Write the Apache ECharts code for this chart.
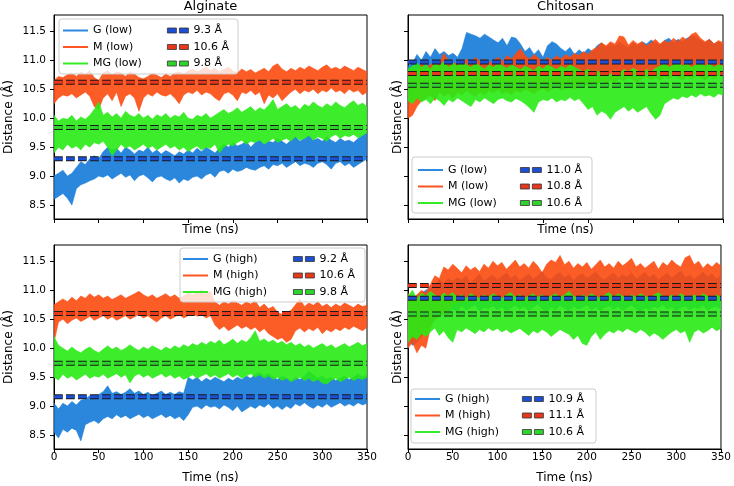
<!DOCTYPE html>
<html><head><meta charset="utf-8">
<script src="https://cdn.jsdelivr.net/npm/echarts@6/dist/echarts.min.js"></script>
<style>html,body{margin:0;padding:0;background:#fff}#c{width:734px;height:486px}</style>
</head><body><div id="c"></div><script>
// ---------- data ----------
const time = [0,5,10,15,20,25,30,35,40,45,50,55,60,65,70,75,80,85,90,95,100,105,110,115,120,125,130,135,140,145,150,155,160,165,170,175,180,185,190,195,200,205,210,215,220,225,230,235,240,245,250,255,260,265,270,275,280,285,290,295,300,305,310,315,320,325,330,335,340,345,350];
const yTicks = [8.5,9.0,9.5,10.0,10.5,11.0,11.5];
const panelTitles = ['Alginate','Chitosan'];
const namesLow = ['G (low)','M (low)','MG (low)'];
const namesHigh = ['G (high)','M (high)','MG (high)'];

// Alginate, low (envelope of each trace: lower / upper edge, every 5 ns)
const algLowG_lo = [8.60,8.65,8.70,8.62,8.50,8.78,8.85,8.88,8.92,8.95,
 9.00,8.98,9.02,8.95,9.00,9.05,8.98,9.02,8.92,9.00,
 9.03,8.97,8.90,8.98,9.00,8.95,8.92,8.97,8.88,8.95,
 8.92,8.98,9.00,8.95,9.02,9.05,8.98,9.08,9.10,9.05,
 9.12,9.08,9.10,9.15,9.12,9.10,9.15,9.18,9.12,9.20,
 9.18,9.22,9.15,9.20,9.25,9.18,9.22,9.20,9.15,9.22,
 9.25,9.20,9.12,9.22,9.25,9.18,9.22,9.15,9.20,9.25,
 9.30];
const algLowG_hi = [9.00,9.05,9.10,9.00,9.05,9.15,9.25,9.20,9.30,9.35,
 9.30,9.42,9.50,9.45,9.48,9.40,9.50,9.45,9.38,9.45,
 9.42,9.50,9.40,9.45,9.38,9.44,9.40,9.35,9.42,9.38,
 9.45,9.40,9.48,9.42,9.50,9.45,9.40,9.48,9.55,9.50,
 9.58,9.52,9.55,9.60,9.50,9.58,9.62,9.55,9.60,9.58,
 9.65,9.60,9.55,9.62,9.68,9.60,9.65,9.70,9.62,9.65,
 9.60,9.68,9.62,9.58,9.65,9.60,9.62,9.58,9.65,9.70,
 9.75];
const algLowM_lo = [10.25,10.35,10.40,10.38,10.42,10.35,10.40,10.45,10.38,10.20,
 10.15,10.35,10.42,10.30,10.45,10.20,10.38,10.42,10.35,10.12,
 10.35,10.42,10.38,10.45,10.40,10.38,10.42,10.35,10.25,10.40,
 10.45,10.42,10.48,10.40,10.45,10.42,10.35,10.30,10.42,10.45,
 10.40,10.30,10.45,10.42,10.48,10.40,10.45,10.25,10.40,10.35,
 10.42,10.30,10.38,10.45,10.50,10.42,10.48,10.45,10.50,10.42,
 10.48,10.45,10.52,10.45,10.48,10.42,10.50,10.45,10.48,10.40,
 10.45];
const algLowM_hi = [10.65,10.72,10.70,10.75,10.78,10.72,10.80,10.75,10.82,10.70,
 10.65,10.78,10.82,10.75,10.80,10.78,10.72,10.80,10.76,10.70,
 10.68,10.72,10.78,10.74,10.70,10.76,10.72,10.78,10.80,10.76,
 10.82,10.85,10.80,10.84,10.88,10.82,10.86,10.80,10.84,10.88,
 10.82,10.78,10.85,10.80,10.84,10.78,10.82,10.86,10.80,10.90,
 10.94,10.85,10.80,10.86,10.82,10.88,10.84,10.90,10.86,10.82,
 10.88,10.92,10.85,10.88,10.84,10.90,10.86,10.82,10.88,10.84,
 10.80];
const algLowMG_lo = [9.40,9.50,9.45,9.55,9.48,9.52,9.45,9.55,9.50,9.58,
 9.55,9.60,9.50,9.35,9.45,9.55,9.48,9.52,9.45,9.50,
 9.55,9.48,9.52,9.45,9.50,9.55,9.48,9.52,9.45,9.50,
 9.42,9.48,9.52,9.45,9.50,9.48,9.55,9.40,9.50,9.55,
 9.52,9.58,9.62,9.55,9.60,9.58,9.62,9.55,9.60,9.65,
 9.58,9.62,9.65,9.60,9.68,9.62,9.65,9.70,9.62,9.68,
 9.65,9.60,9.68,9.72,9.65,9.70,9.68,9.72,9.66,9.70,
 9.75];
const algLowMG_hi = [10.05,9.95,10.00,9.98,10.05,9.95,10.02,9.98,10.05,10.15,
 10.28,10.05,10.10,10.02,10.08,10.00,10.12,10.05,10.02,10.08,
 10.00,10.05,9.98,10.06,10.02,10.08,10.00,10.05,10.02,10.10,
 10.00,9.98,10.05,10.02,10.08,10.00,10.05,10.10,10.15,10.08,
 10.12,10.18,10.10,10.15,10.20,10.12,10.18,10.14,10.22,10.32,
 10.15,10.20,10.25,10.18,10.22,10.15,10.24,10.20,10.28,10.22,
 10.18,10.25,10.20,10.28,10.22,10.18,10.25,10.30,10.22,10.26,
 10.20];

// Chitosan, low
const chiLowG_lo = [10.40,10.45,10.50,10.55,10.60,10.62,10.70,10.65,10.72,10.68,
 10.75,10.80,10.85,10.90,10.88,10.85,10.90,10.82,10.88,10.85,
 10.80,10.78,10.75,10.80,10.72,10.78,10.75,10.70,10.76,10.72,
 10.78,10.75,10.80,10.78,10.74,10.80,10.76,10.72,10.78,10.75,
 10.70,10.78,10.82,10.76,10.80,10.78,10.84,10.80,10.86,10.82,
 10.88,10.84,10.80,10.86,10.82,10.88,10.84,10.90,10.86,10.82,
 10.88,10.84,10.90,10.86,10.92,10.88,10.84,10.90,10.86,10.88,
 10.85];
const chiLowG_hi = [10.90,10.95,11.10,11.00,11.15,11.05,11.20,11.10,11.15,11.08,
 11.12,11.05,11.20,11.48,11.45,11.42,11.38,11.45,11.40,11.35,
 11.30,11.38,11.25,11.40,11.38,11.28,11.15,11.22,11.10,11.18,
 11.05,11.25,11.32,11.28,11.20,11.15,11.22,11.10,11.18,11.12,
 11.20,11.15,11.25,11.30,11.22,11.28,11.24,11.32,11.26,11.22,
 11.30,11.25,11.32,11.28,11.35,11.30,11.26,11.34,11.38,11.30,
 11.36,11.32,11.38,11.42,11.40,11.34,11.30,11.36,11.28,11.32,
 11.25];
const chiLowM_lo = [10.00,10.05,10.20,10.30,10.35,10.40,10.30,10.45,10.38,10.42,
 10.35,10.45,10.40,10.48,10.42,10.38,10.45,10.40,10.48,10.44,
 10.50,10.42,10.46,10.40,10.48,10.44,10.50,10.46,10.42,10.48,
 10.52,10.46,10.50,10.55,10.48,10.52,10.56,10.50,10.55,10.60,
 10.55,10.62,10.58,10.65,10.60,10.66,10.62,10.68,10.64,10.70,
 10.66,10.62,10.68,10.72,10.66,10.70,10.65,10.72,10.68,10.74,
 10.70,10.66,10.72,10.68,10.74,10.70,10.66,10.72,10.68,10.74,
 10.70];
const chiLowM_hi = [10.70,10.85,10.80,10.95,10.88,10.92,11.00,10.95,11.12,10.98,
 10.92,11.00,10.95,11.02,10.96,11.05,10.98,11.02,10.95,11.00,
 11.05,10.98,11.08,11.02,11.12,11.20,11.08,11.02,11.10,11.04,
 10.98,11.05,11.00,11.08,11.02,11.10,11.05,11.12,11.08,11.15,
 11.10,11.18,11.22,11.30,11.25,11.32,11.28,11.42,11.40,11.26,
 11.34,11.28,11.32,11.25,11.30,11.36,11.28,11.34,11.30,11.38,
 11.32,11.40,11.35,11.45,11.48,11.38,11.32,11.36,11.28,11.34,
 11.30];
const chiLowMG_lo = [10.30,10.25,10.35,10.28,10.32,10.25,10.35,10.30,10.22,10.32,
 10.28,10.35,10.30,10.25,10.20,10.32,10.28,10.35,10.30,10.25,
 10.32,10.35,10.30,10.28,10.34,10.30,10.25,10.18,10.10,10.28,
 10.32,10.30,10.35,10.28,10.32,10.30,10.36,10.30,10.34,10.25,
 10.15,10.20,10.05,10.12,10.08,9.98,10.10,10.15,10.20,10.12,
 10.18,10.10,10.15,10.20,10.08,9.98,10.05,10.25,10.30,10.35,
 10.32,10.38,10.35,10.40,10.36,10.42,10.38,10.40,10.36,10.42,
 10.40];
const chiLowMG_hi = [10.85,10.90,10.95,10.88,10.92,10.85,10.95,10.90,10.98,10.88,
 10.95,10.90,11.00,10.92,10.88,10.95,10.90,10.85,10.92,10.88,
 10.95,10.90,10.86,10.92,10.88,10.84,10.90,10.86,10.82,10.90,
 10.85,10.92,10.88,10.84,10.90,10.86,10.92,10.88,10.84,10.80,
 10.85,10.78,10.82,10.76,10.80,10.75,10.82,10.78,10.84,10.80,
 10.86,10.82,10.78,10.84,10.80,10.86,10.90,10.95,10.88,10.92,
 10.98,10.90,10.94,10.88,10.92,10.96,10.90,10.94,10.88,10.92,
 10.90];

// Alginate, high
const algHighG_lo = [8.55,8.45,8.60,8.55,8.62,8.58,8.40,8.68,8.72,8.75,
 8.70,8.78,8.82,8.78,8.85,8.80,8.84,8.78,8.82,8.86,
 8.80,8.84,8.78,8.82,8.86,8.80,8.84,8.78,8.82,8.75,
 8.85,8.98,9.00,8.95,9.02,8.98,9.00,8.95,9.02,8.98,
 8.92,9.00,8.90,8.95,9.00,8.96,9.02,8.98,9.04,8.96,
 9.00,8.94,9.00,8.96,9.04,9.00,9.06,9.00,8.96,9.02,
 8.98,9.04,8.98,9.02,9.06,9.00,9.04,9.00,9.06,9.02,
 9.05];
const algHighG_hi = [9.05,8.95,9.05,9.00,9.08,9.02,9.10,9.12,9.18,9.15,
 9.20,9.25,9.35,9.22,9.25,9.20,9.24,9.30,9.22,9.26,
 9.20,9.24,9.18,9.22,9.26,9.20,9.24,9.20,9.25,9.22,
 9.50,9.45,9.50,9.42,9.48,9.44,9.50,9.46,9.42,9.48,
 9.44,9.50,9.46,9.52,9.48,9.55,9.58,9.52,9.56,9.50,
 9.46,9.52,9.48,9.44,9.50,9.46,9.52,9.60,9.54,9.48,
 9.52,9.46,9.50,9.44,9.48,9.52,9.46,9.50,9.56,9.50,
 9.55];
const algHighM_lo = [10.10,10.45,10.50,10.42,10.48,10.52,10.46,10.50,10.55,10.48,
 10.52,10.56,10.50,10.54,10.48,10.52,10.56,10.50,10.54,10.58,
 10.52,10.56,10.50,10.45,10.52,10.56,10.50,10.54,10.58,10.52,
 10.56,10.60,10.55,10.58,10.52,10.56,10.40,10.32,10.38,10.30,
 10.35,10.40,10.34,10.38,10.32,10.36,10.28,10.34,10.25,10.20,
 10.15,10.18,10.10,10.15,10.30,10.35,10.28,10.34,10.30,10.36,
 10.25,10.32,10.28,10.34,10.30,10.36,10.32,10.38,10.34,10.30,
 10.36];
const algHighM_hi = [10.75,10.80,10.85,10.80,10.88,10.82,10.90,10.86,10.94,10.88,
 10.92,10.86,10.90,10.84,10.88,10.92,10.86,10.90,10.94,10.98,
 10.92,10.88,10.92,10.86,10.90,10.94,10.88,10.92,10.86,10.90,
 10.95,10.92,10.96,11.00,10.94,10.98,10.80,10.74,10.80,10.76,
 10.82,10.78,10.74,10.80,10.76,10.82,10.70,10.76,10.68,10.72,
 10.62,10.58,10.62,10.65,10.75,10.85,10.72,10.78,10.74,10.80,
 10.72,10.76,10.70,10.76,10.72,10.78,10.74,10.70,10.76,10.72,
 10.74];
const algHighMG_lo = [9.50,9.45,9.55,9.48,9.52,9.45,9.50,9.55,9.48,9.52,
 9.50,9.55,9.48,9.52,9.56,9.50,9.54,9.40,9.52,9.56,
 9.50,9.54,9.48,9.52,9.56,9.50,9.54,9.48,9.52,9.46,
 9.50,9.54,9.48,9.52,9.56,9.50,9.54,9.48,9.52,9.56,
 9.50,9.54,9.48,9.52,9.56,9.50,9.54,9.48,9.52,9.46,
 9.50,9.44,9.48,9.42,9.46,9.50,9.44,9.48,9.42,9.46,
 9.40,9.38,9.44,9.48,9.42,9.46,9.50,9.44,9.48,9.46,
 9.50];
const algHighMG_hi = [10.20,10.05,10.00,9.95,10.02,9.96,9.92,9.98,10.02,9.96,
 9.92,9.98,10.04,9.98,10.02,9.96,10.00,10.06,10.00,9.96,
 10.02,9.98,10.04,10.00,9.96,10.02,9.98,10.04,10.00,10.06,
 10.02,10.08,10.04,10.10,10.06,10.12,10.08,10.14,10.06,10.10,
 10.16,10.08,10.14,10.10,10.18,10.30,10.12,10.16,10.10,10.14,
 10.08,10.12,10.06,10.10,10.04,10.08,10.02,10.06,10.00,10.04,
 10.08,10.02,10.06,10.00,10.04,10.08,10.02,10.06,10.10,10.04,
 10.08];

// Chitosan, high
const chiHighG_lo = [10.15,10.05,10.10,10.20,10.30,10.40,10.50,10.55,10.60,10.62,
 10.68,10.62,10.74,10.66,10.70,10.75,10.64,10.70,10.68,10.73,
 10.66,10.71,10.64,10.69,10.74,10.67,10.72,10.65,10.70,10.76,
 10.68,10.63,10.71,10.66,10.74,10.69,10.64,10.72,10.67,10.70,
 10.75,10.66,10.71,10.64,10.70,10.73,10.67,10.72,10.65,10.70,
 10.74,10.68,10.63,10.70,10.66,10.72,10.69,10.75,10.67,10.71,
 10.64,10.70,10.73,10.66,10.71,10.68,10.74,10.65,10.70,10.72,
 10.68];
const chiHighG_hi = [10.80,10.85,10.90,10.95,11.00,11.05,11.10,11.18,11.12,11.20,
 11.15,11.22,11.18,11.25,11.12,11.20,11.28,11.16,11.22,11.26,
 11.18,11.24,11.30,11.20,11.26,11.16,11.22,11.28,11.19,11.25,
 11.32,11.22,11.18,11.26,11.30,11.21,11.27,11.17,11.24,11.29,
 11.20,11.26,11.32,11.22,11.18,11.25,11.30,11.20,11.27,11.23,
 11.30,11.19,11.25,11.31,11.22,11.28,11.18,11.24,11.30,11.21,
 11.27,11.33,11.22,11.26,11.19,11.25,11.31,11.23,11.28,11.20,
 11.25];
const chiHighM_lo = [10.00,10.10,9.92,10.05,10.00,10.35,10.50,10.55,10.60,10.65,
 10.75,10.80,10.78,10.82,10.80,10.85,10.82,10.86,10.80,10.84,
 10.82,10.87,10.79,10.85,10.90,10.81,10.86,10.78,10.84,10.89,
 10.83,10.88,10.80,10.85,10.91,10.82,10.87,10.79,10.84,10.90,
 10.81,10.86,10.92,10.83,10.88,10.80,10.85,10.89,10.82,10.87,
 10.84,10.79,10.86,10.91,10.83,10.88,10.80,10.85,10.90,10.82,
 10.87,10.81,10.86,10.92,10.84,10.79,10.85,10.90,10.83,10.88,
 10.84];
const chiHighM_hi = [10.95,10.85,10.92,11.00,10.95,11.10,11.25,11.20,11.40,11.35,
 11.45,11.38,11.30,11.42,11.35,11.40,11.32,11.45,11.38,11.50,
 11.42,11.48,11.36,11.44,11.52,11.40,11.46,11.38,11.50,11.42,
 11.30,11.45,11.52,11.48,11.60,11.44,11.50,11.38,11.46,11.40,
 11.48,11.36,11.44,11.52,11.40,11.46,11.38,11.50,11.42,11.48,
 11.55,11.40,11.46,11.38,11.44,11.50,11.36,11.48,11.42,11.52,
 11.45,11.40,11.56,11.60,11.44,11.50,11.38,11.46,11.40,11.48,
 11.42];
const chiHighMG_lo = [10.10,10.20,10.15,10.25,10.20,10.28,10.35,10.22,10.30,10.18,
 10.10,10.32,10.28,10.35,10.30,10.25,10.32,10.28,10.35,10.30,
 10.34,10.28,10.32,10.26,10.30,10.34,10.28,10.22,10.30,10.26,
 10.32,10.28,10.20,10.26,10.32,10.28,10.24,10.15,10.22,10.08,
 10.05,10.20,10.28,10.15,10.24,10.30,10.26,10.32,10.28,10.34,
 10.30,10.26,10.32,10.28,10.20,10.26,10.22,10.15,10.22,10.28,
 10.32,10.26,10.30,10.10,10.28,10.32,10.26,10.30,10.36,10.30,
 10.34];
const chiHighMG_hi = [10.90,11.00,10.85,10.95,10.90,10.98,10.92,10.88,10.95,10.90,
 10.96,10.88,10.92,10.86,10.94,10.90,10.86,10.92,10.88,10.94,
 10.90,10.86,10.92,10.96,10.88,10.92,10.86,10.90,10.94,10.88,
 10.92,10.86,10.90,10.94,10.88,10.92,10.98,10.90,10.86,10.92,
 10.88,10.94,10.90,10.86,10.92,10.96,10.88,10.94,10.90,10.86,
 10.92,10.88,10.94,10.90,10.86,10.92,10.96,10.90,10.86,10.92,
 10.88,10.94,10.90,10.86,10.92,10.88,10.94,10.90,10.86,10.92,
 10.88];

// mean lines (position) and their legend labels
const algLowMeans = [9.30,10.62,9.84];   const algLowMeanLabels = ['9.3 Å','10.6 Å','9.8 Å'];
const chiLowMeans = [10.97,10.77,10.57]; const chiLowMeanLabels = ['11.0 Å','10.8 Å','10.6 Å'];
const algHighMeans = [9.16,10.60,9.74];  const algHighMeanLabels = ['9.2 Å','10.6 Å','9.8 Å'];
const chiHighMeans = [10.86,11.08,10.59];const chiHighMeanLabels = ['10.9 Å','11.1 Å','10.6 Å'];

// ---------- styling / layout ----------
const FONT = 'DejaVu Sans';
const fillColors = ['#137ad8','#fc4a0e','#28ea14'];
const legendLineColors = ['#2e8ae0','#fc5422','#36ea28'];
const meanColors = ['#1d4fd2','#e8381c','#2ed42c'];

const panels = [
  {grid:{left:54,top:15,width:313,height:204}, lo:[algLowG_lo,algLowM_lo,algLowMG_lo], hi:[algLowG_hi,algLowM_hi,algLowMG_hi],
   names:namesLow, means:algLowMeans, meanLabels:algLowMeanLabels, xLab:false, yLab:true,
   legTop:22.25, legLeft:[63,167], box:[59,19,179,55]},
  {grid:{left:408,top:15,width:315,height:204}, lo:[chiLowG_lo,chiLowM_lo,chiLowMG_lo], hi:[chiLowG_hi,chiLowM_hi,chiLowMG_hi],
   names:namesLow, means:chiLowMeans, meanLabels:chiLowMeanLabels, xLab:false, yLab:false,
   legTop:161.75, legLeft:[418,520], box:[412,157,180,56]},
  {grid:{left:54,top:245,width:313,height:204}, lo:[algHighG_lo,algHighM_lo,algHighMG_lo], hi:[algHighG_hi,algHighM_hi,algHighMG_hi],
   names:namesHigh, means:algHighMeans, meanLabels:algHighMeanLabels, xLab:true, yLab:true,
   legTop:250.75, legLeft:[183,293], box:[180,248,185,54]},
  {grid:{left:408,top:245,width:315,height:204}, lo:[chiHighG_lo,chiHighM_lo,chiHighMG_lo], hi:[chiHighG_hi,chiHighM_hi,chiHighMG_hi],
   names:namesHigh, means:chiHighMeans, meanLabels:chiHighMeanLabels, xLab:true, yLab:false,
   legTop:390.75, legLeft:[415,522], box:[411,389,185,54]}
];

// band renderer: one polygon through the upper edge and back along the lower edge
function bandRenderer(color){
  return function(params, api){
    if (params.dataIndexInside !== 0) return null;
    const n = params.dataInsideLength;
    const pts = [];
    for (let k=0;k<n;k++) pts.push(api.coord([api.value(0,k), api.value(2,k)]));
    for (let k=n-1;k>=0;k--) pts.push(api.coord([api.value(0,k), api.value(1,k)]));
    return {type:'polygon', shape:{points:pts},
      style:{fill:color, opacity:0.9, stroke:color, lineWidth:0.6}};
  };
}

const grid=[], xAxis=[], yAxis=[], series=[], legend=[], graphic=[];
const dash = [8.7,3.3];
panels.forEach((p,i)=>{
  grid.push(Object.assign({show:true, borderColor:'#000', borderWidth:1, backgroundColor:'transparent'}, p.grid));
  xAxis.push({type:'value', gridIndex:i, min:0, max:350, interval:50,
    axisLine:{show:true, onZero:false, lineStyle:{color:'#000', width:1}},
    axisTick:{show:true, length:4, lineStyle:{color:'#000'}},
    axisLabel:{show:p.xLab, margin:3, fontFamily:FONT, fontSize:10.5, color:'#000'},
    splitLine:{show:false},
    name:'Time (ns)', nameLocation:'middle', nameGap:p.xLab?23:5,
    nameTextStyle:{fontFamily:FONT, fontSize:12, color:'#000'}});
  yAxis.push({type:'value', gridIndex:i, min:8.26, max:11.78,
    axisLine:{show:true, onZero:false, lineStyle:{color:'#000', width:1}},
    axisTick:{show:true, length:4, customValues:yTicks, lineStyle:{color:'#000'}},
    axisLabel:{show:p.yLab, customValues:yTicks, margin:8, formatter:v=>Number(v).toFixed(1), fontFamily:FONT, fontSize:10.5, color:'#000'},
    splitLine:{show:false},
    name:'Distance (Å)', nameLocation:'middle', nameRotate:90, nameGap:p.yLab?39:4,
    nameTextStyle:{fontFamily:FONT, fontSize:12, color:'#000'}});
  // bands
  for (let j=0;j<3;j++){
    series.push({type:'custom', name:p.names[j], xAxisIndex:i, yAxisIndex:i, silent:true, clip:true, z:2,
      itemStyle:{color:fillColors[j]},
      encode:{x:0, y:[1,2]},
      renderItem: bandRenderer(fillColors[j]),
      data: time.map((t,k)=>[t, p.lo[j][k], p.hi[j][k]])});
  }
  // mean lines
  for (let j=0;j<3;j++){
    series.push({type:'line', name:'_outline'+i+j, xAxisIndex:i, yAxisIndex:i, symbol:'none', silent:true, z:3,
      lineStyle:{color:'#1a1a1a', width:5, type:dash}, data:[[0,p.means[j]],[350,p.means[j]]]});
    series.push({type:'line', name:p.meanLabels[j], xAxisIndex:i, yAxisIndex:i, symbol:'none', silent:true, z:4,
      itemStyle:{color:meanColors[j]},
      lineStyle:{color:meanColors[j], width:3, type:dash}, data:[[0,p.means[j]],[350,p.means[j]]]});
  }
  // legend box
  graphic.push({type:'rect', silent:true, z:10,
    shape:{x:p.box[0], y:p.box[1], width:p.box[2], height:p.box[3], r:3},
    style:{fill:'rgba(255,255,255,0.8)', stroke:'#cccccc', lineWidth:1}});
  const ts = {fontFamily:FONT, fontSize:11, color:'#000', lineHeight:16.5};
  legend.push({orient:'vertical', left:p.legLeft[0], top:p.legTop, padding:0, itemGap:0, itemWidth:25, itemHeight:2,
    selectedMode:false, z:20, textStyle:ts,
    data:p.names.map((n,j)=>({name:n, icon:'path://M0,0h25v2h-25z', itemStyle:{color:legendLineColors[j], borderWidth:0}}))});
  legend.push({orient:'vertical', left:p.legLeft[1], top:p.legTop, padding:0, itemGap:0, itemWidth:21, itemHeight:5,
    selectedMode:false, z:20, textStyle:ts,
    data:p.meanLabels.map((n,j)=>({name:n, icon:'path://M0,0h9v5h-9zM12,0h9v5h-9z', itemStyle:{color:meanColors[j], borderColor:'#333', borderWidth:0.8}}))});
});

const chart = echarts.init(document.getElementById('c'), null, {renderer:'canvas'});
chart.setOption({
  animation:false,
  backgroundColor:'#fff',
  textStyle:{fontFamily:FONT},
  title:[
    {text:panelTitles[0], left:210.5, top:0, padding:0, textAlign:'center', textStyle:{fontFamily:FONT, fontSize:13, fontWeight:'normal', color:'#000'}},
    {text:panelTitles[1], left:565.5, top:0, padding:0, textAlign:'center', textStyle:{fontFamily:FONT, fontSize:13, fontWeight:'normal', color:'#000'}}
  ],
  grid, xAxis, yAxis, series, legend, graphic
});
</script></body></html>
